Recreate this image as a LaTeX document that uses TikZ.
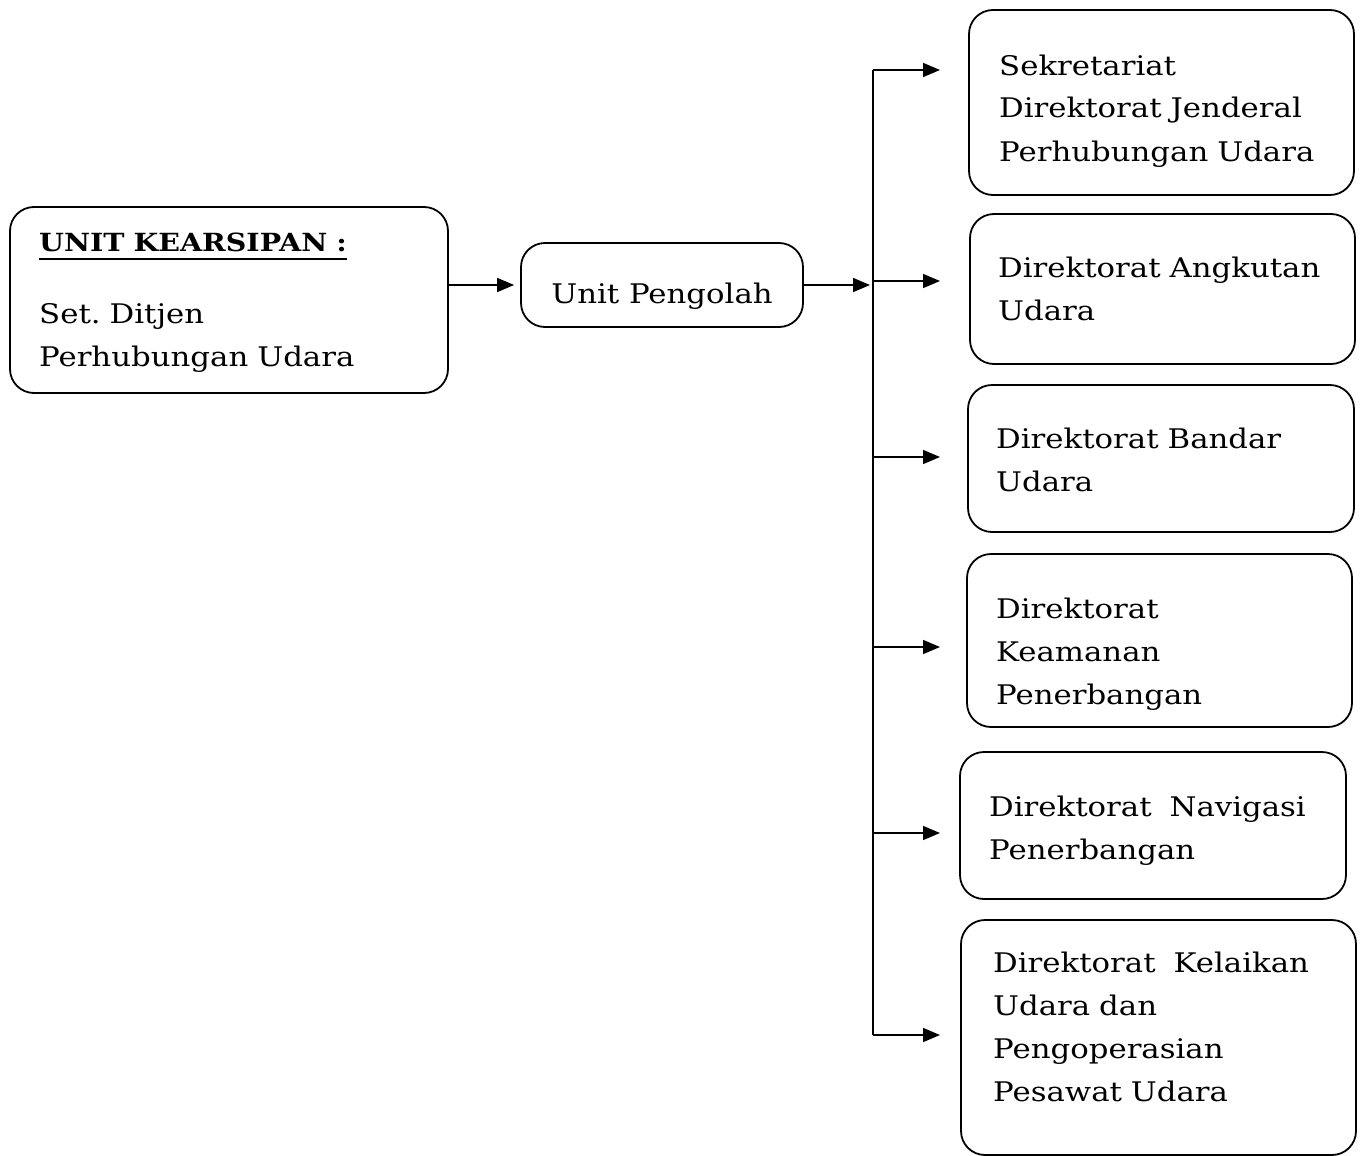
\documentclass[tikz,border=0pt]{standalone}
\usepackage{fontspec}
\setmainfont{DejaVu Serif}[FakeStretch=1.14]
\usetikzlibrary{arrows.meta}
\newsavebox\ulbox
\newcommand{\ulbold}[1]{\sbox\ulbox{#1}\usebox\ulbox\llap{\rule[-9pt]{\wd\ulbox}{1.6pt}}}
\begin{document}
\frenchspacing
\begin{tikzpicture}[x=1pt,y=-1pt,
  box/.style={draw, line width=1.8pt, rounded corners=24pt, inner sep=0pt},
  txt/.style={inner sep=0pt, anchor=base west, align=left, text width=370pt,
    font=\fontsize{27}{43}\selectfont},
  arr/.style={line width=1.7pt, -{Triangle[length=17pt,width=14pt]}},
  ln/.style={line width=1.7pt}]
\useasboundingbox (0,0) rectangle (1366,1156);
% boxes
\node[box, minimum width=438pt, minimum height=186pt] (L) at (229,300) {};
\node[box, minimum width=282pt, minimum height=84pt] (UP) at (662,285) {};
\node[box, minimum width=385pt, minimum height=185pt] (R1) at (1161.5,102.5) {};
\node[box, minimum width=385pt, minimum height=150pt] (R2) at (1162.5,289) {};
\node[box, minimum width=386pt, minimum height=147pt] (R3) at (1161,458.5) {};
\node[box, minimum width=385pt, minimum height=173pt] (R4) at (1159.5,640.5) {};
\node[box, minimum width=386pt, minimum height=147pt] (R5) at (1153,825.5) {};
\node[box, minimum width=395pt, minimum height=235pt] (R6) at (1158.5,1037.5) {};
% texts
\node[txt] (Lt) at (39,251)
  {{\fontsize{25}{43}\selectfont\bfseries\ulbold{UNIT KEARSIPAN :}}\\[29pt]Set. Ditjen\\Perhubungan Udara};
\node[txt, anchor=base, text width=, align=center] (UPt) at (662,303) {Unit Pengolah};
\node[txt] (R1t) at (999,75) {Sekretariat\\Direktorat Jenderal\\Perhubungan Udara};
\node[txt] (R2t) at (998,277) {Direktorat Angkutan\\Udara};
\node[txt] (R3t) at (996,448) {Direktorat Bandar\\Udara};
\node[txt] (R4t) at (996,618) {Direktorat\\Keamanan\\Penerbangan};
\node[txt] (R5t) at (989,816) {Direktorat~ Navigasi\\Penerbangan};
\node[txt] (R6t) at (993,972) {Direktorat~ Kelaikan\\Udara dan\\Pengoperasian\\Pesawat Udara};
% connectors
\coordinate (t1) at (873,70);
\coordinate (t2) at (873,281);
\coordinate (tm) at (873,285);
\coordinate (t3) at (873,457);
\coordinate (t4) at (873,647);
\coordinate (t5) at (873,833);
\coordinate (t6) at (873,1035);
\coordinate (b1) at (940,70);
\coordinate (b2) at (940,281);
\coordinate (b3) at (940,457);
\coordinate (b4) at (940,647);
\coordinate (b5) at (940,833);
\coordinate (b6) at (940,1035);
\draw[arr, shorten >=6pt] (L.east |- UP.west) -- (UP.west);
\draw[arr, shorten >=3pt] (UP.east) -- (tm);
\draw[ln] (t1) -- (t6);
\foreach \i in {1,...,6} \draw[arr] (t\i) -- (b\i);
\end{tikzpicture}
\end{document}
